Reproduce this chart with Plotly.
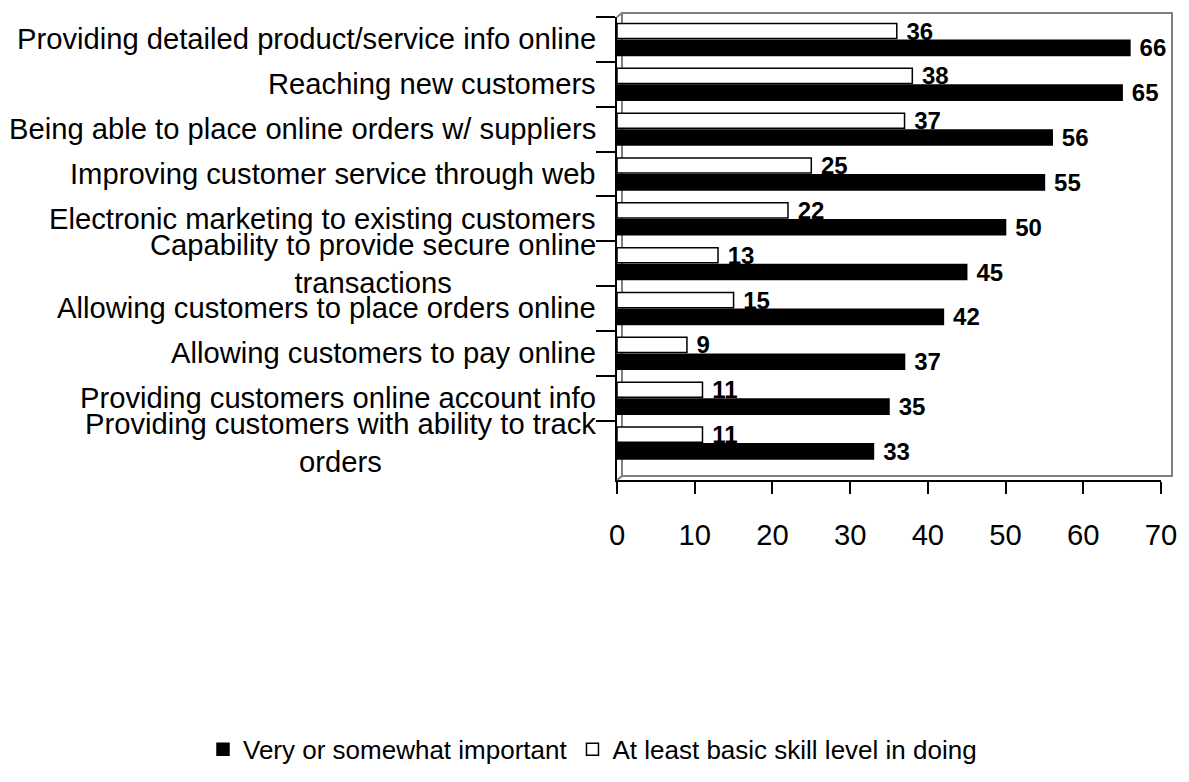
import plotly.graph_objects as go

categories = [
    "Providing detailed product/service info online",
    "Reaching new customers",
    "Being able to place online orders w/ suppliers",
    "Improving customer service through web",
    "Electronic marketing to existing customers",
    "Capability to provide secure online<br>transactions",
    "Allowing customers to place orders online",
    "Allowing customers to pay online",
    "Providing customers online account info",
    "Providing customers with ability to track<br>orders",
]
important = [66, 65, 56, 55, 50, 45, 42, 37, 35, 33]
skill = [36, 38, 37, 25, 22, 13, 15, 9, 11, 11]
series_names = ["Very or somewhat important", "At least basic skill level in doing"]
x_ticks = [0, 10, 20, 30, 40, 50, 60, 70]

FONT = "Arial, Liberation Sans, sans-serif"

W, H = 1181, 774
L, T = 609, 9
PW, PH = 544, 476
R, B = W - L - PW, H - T - PH

label_font = dict(family=FONT, size=24, color="black", weight="bold")

fig = go.Figure()
fig.add_trace(go.Bar(
    y=categories, x=skill, orientation="h", name=series_names[1],
    marker=dict(color="white", line=dict(color="black", width=1.5)),
    text=skill, texttemplate="\u00a0%{text}", textposition="outside",
    cliponaxis=False, constraintext="none", textfont=label_font,
    legendrank=2,
))
fig.add_trace(go.Bar(
    y=categories, x=important, orientation="h", name=series_names[0],
    marker=dict(color="black", line=dict(color="black", width=1.5)),
    text=important, texttemplate="\u00a0%{text}", textposition="outside",
    cliponaxis=False, constraintext="none", textfont=label_font,
    legendrank=1,
))

for c in categories:
    fig.add_annotation(
        x=-19 / PW, xref="paper", y=c, yref="y", text=c, showarrow=False,
        xanchor="right", yanchor="middle", align="center",
        font=dict(family=FONT, size=29.2, color="black"),
    )

# 3D back wall frame
dx, dy = 5 / PW, 4 / PH
wall = dict(color="#808080", width=2)
fig.add_shape(type="rect", xref="paper", yref="paper",
              x0=dx, x1=1 + 11 / PW, y0=dy, y1=1 + dy, line=wall, layer="below")
fig.add_shape(type="line", xref="paper", yref="paper", x0=0, y0=1, x1=dx, y1=1 + dy, line=wall)
fig.add_shape(type="line", xref="paper", yref="paper", x0=0, y0=0, x1=dx, y1=dy, line=wall)

fig.update_layout(
    width=W, height=H,
    margin=dict(l=L, r=R, t=T, b=B),
    paper_bgcolor="white", plot_bgcolor="white",
    barmode="group", bargap=0.25, bargroupgap=0.1,
    font=dict(family=FONT, size=29.2, color="black"),
    showlegend=True,
    legend=dict(orientation="h", x=(195 - L) / PW, xanchor="left",
                y=(T + PH - 762) / PH, yanchor="middle",
                font=dict(family=FONT, size=26, color="black"),
                itemwidth=30, traceorder="normal"),
    xaxis=dict(range=[0, 70], tickvals=x_ticks, showgrid=False, zeroline=False,
               showline=True, linecolor="black", linewidth=2,
               ticks="outside", ticklen=12, tickcolor="black", tickwidth=2,
               ticklabelstandoff=16,
               tickfont=dict(family=FONT, size=29.2, color="black")),
    yaxis=dict(categoryorder="array", categoryarray=categories, autorange="reversed",
               showticklabels=False, showgrid=False, zeroline=False,
               showline=True, linecolor="black", linewidth=2,
               ticks="outside", tickson="boundaries", ticklen=19,
               tickcolor="black", tickwidth=2),
)

fig.write_html("out.html")
